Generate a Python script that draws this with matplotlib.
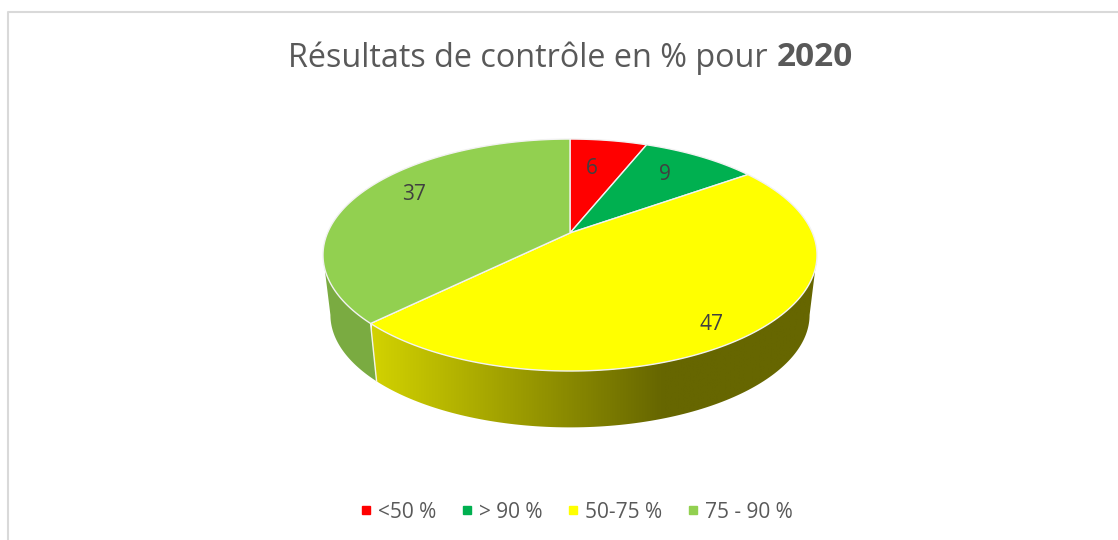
import matplotlib
matplotlib.use("Agg")
import matplotlib.pyplot as plt
import numpy as np
from matplotlib.colors import LinearSegmentedColormap
from matplotlib.lines import Line2D
from matplotlib.patches import Polygon

categories = ["<50 %", "> 90 %", "50-75 %", "75 - 90 %"]
values = [6, 9, 47, 37]
colors = ["#FF0000", "#00B050", "#FFFF00", "#92D050"]

plt.rcParams["font.family"] = ["Open Sans", "DejaVu Sans"]

## pie geometry, in pixels
cx, cy = 570, 233
a, b, persp = 242.5, 111.8, 0.19
depth, shrink = 60.5, 0.97
label_pos = [(592, 169), (665, 175), (712, 325), (414, 195)]


def rim(deg, scale=1.0, dy=0.0):
    # tilted circle seen in perspective, angle clockwise from 12 o'clock
    t = np.radians(deg)
    w = 1 + persp * np.cos(t)
    return cx + scale * a * np.sin(t) / w, cy + dy - scale * b * np.cos(t) / w


def side(start, end):
    t = np.linspace(start, end, 120)
    x1, y1 = rim(t)
    x2, y2 = rim(t[::-1], shrink, depth)
    return np.column_stack((np.r_[x1, x2], np.r_[y1, y2]))


fig = plt.figure(figsize=(11.18, 5.40), dpi=100)
ax = fig.add_axes([0, 0, 1, 1])

# chart frame, only top and left are inside the crop
ax.plot([8, 8, 1118], [540, 12, 12], color="#D9D9D9", lw=1.5, zorder=1)

edges = np.r_[0, np.cumsum(values)] / np.sum(values) * 360

## side of the pie
green_side = Polygon(side(edges[3], 259), fc="#7AAB41", ec="none", zorder=2)
ax.add_patch(green_side)

yellow_side = Polygon(side(101, edges[3]), fc="none", ec="none", zorder=2)
ax.add_patch(yellow_side)
shade = LinearSegmentedColormap.from_list(
    "shade", [(0, "#D2D200"), (0.655, "#666600"), (1, "#666600")]
)
img = ax.imshow(
    np.linspace(0, 1, 512).reshape(1, -1),
    cmap=shade,
    extent=(372, 817, 440, 180),
    aspect="auto",
    zorder=2,
)
img.set_clip_path(yellow_side)

x_split, y_split = rim(np.array([edges[3]]))
x_low, y_low = rim(np.array([edges[3]]), shrink, depth)
ax.plot([x_split[0], x_low[0]], [y_split[0], y_low[0]], color="#F4F4E8", lw=1, zorder=3)

## top face
for i in range(len(values)):
    t = np.linspace(edges[i], edges[i + 1], 150)
    x, y = rim(t)
    ax.fill(np.r_[cx, x], np.r_[cy, y], fc=colors[i], ec="#F2F2F2", lw=1, zorder=4)
    ax.text(*label_pos[i], str(values[i]), color="#404040", fontsize=15,
            ha="center", va="center", zorder=5)

ax.set_xlim(0, 1118)
ax.set_ylim(540, 0)
ax.axis("off")

## title, normal part then bold year
title = ax.text(288, 58, "Résultats de contrôle en % pour", color="#595959",
                fontsize=23.3, ha="left", va="center")
fig.canvas.draw()
box = title.get_window_extent()
ax.text(box.x1 + 9, 58, "2020", color="#595959", fontsize=24, fontweight="bold",
        ha="left", va="center")

handles = [
    Line2D([], [], ls="none", marker="s", ms=5.5, color=c, label=n)
    for c, n in zip(colors, categories)
]
ax.legend(
    handles=handles,
    ncols=4,
    loc="center",
    bbox_to_anchor=(572 / 1118, 1 - 512 / 540),
    frameon=False,
    fontsize=15,
    labelcolor="#595959",
    handletextpad=-0.1,
    columnspacing=0.75,
    handlelength=1.4,
)

fig.savefig("out.png", dpi=100)
